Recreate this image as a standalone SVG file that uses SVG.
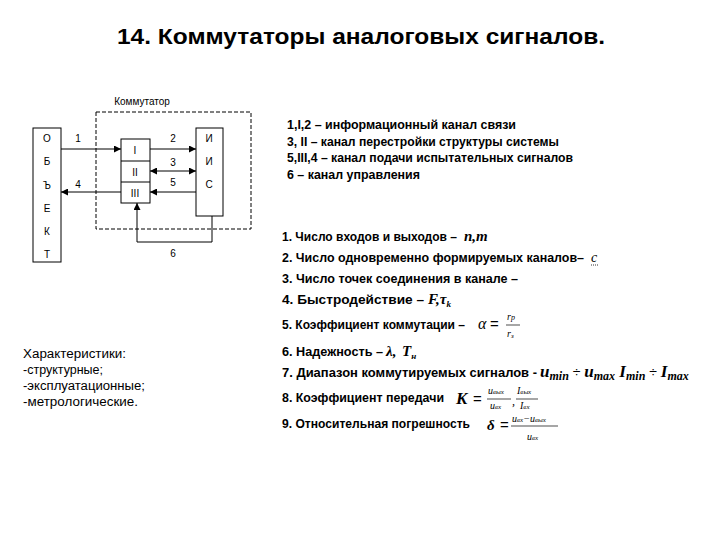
<svg xmlns="http://www.w3.org/2000/svg" width="720" height="540" viewBox="0 0 720 540">
<style>
.t{font-family:"Liberation Sans","DejaVu Sans",sans-serif;fill:#000}
.b{font-weight:bold}
.s{font-size:10px}
.m{font-family:"Liberation Serif","DejaVu Serif",serif;font-style:italic;font-weight:bold;fill:#000}
.mr{font-family:"Liberation Serif","DejaVu Serif",serif;font-style:italic;fill:#000}
.box{fill:#fff;stroke:#000;stroke-width:1}
.ln{fill:none;stroke:#000;stroke-width:1}
</style>
<defs>
<marker id="ah" viewBox="0 0 10 10" refX="10" refY="5" markerWidth="7" markerHeight="7" orient="auto-start-reverse" markerUnits="userSpaceOnUse">
<path d="M0,0 L10,5 L0,10 z" fill="#000"/>
</marker>
</defs>
<rect width="720" height="540" fill="#fff"/>
<text class="t b" x="117" y="44" font-size="22" textLength="488" lengthAdjust="spacingAndGlyphs">14. Коммутаторы аналоговых сигналов.</text>

<g id="commutator">
<rect x="96" y="112" width="155" height="117" fill="none" stroke="#000" stroke-dasharray="4,2"/>
<text class="t s" x="142" y="105" text-anchor="middle">Коммутатор</text>
</g>
<g id="object">
<rect class="box" x="33" y="128" width="28" height="134"/>
<text class="t s" x="47" y="142" text-anchor="middle">О</text>
<text class="t s" x="47" y="165" text-anchor="middle">Б</text>
<text class="t s" x="47" y="189" text-anchor="middle">Ъ</text>
<text class="t s" x="47" y="212" text-anchor="middle">Е</text>
<text class="t s" x="47" y="235" text-anchor="middle">К</text>
<text class="t s" x="47" y="258" text-anchor="middle">Т</text>
</g>
<g id="switch">
<rect class="box" x="121" y="139" width="29" height="64"/>
<line class="ln" x1="121" y1="161" x2="150" y2="161"/>
<line class="ln" x1="121" y1="182" x2="150" y2="182"/>
<text class="t s" x="135" y="154" text-anchor="middle">I</text>
<text class="t s" x="135" y="176" text-anchor="middle">II</text>
<text class="t s" x="135" y="197" text-anchor="middle">III</text>
</g>
<g id="iis">
<rect class="box" x="196" y="128" width="27" height="88"/>
<text class="t s" x="209" y="142" text-anchor="middle">И</text>
<text class="t s" x="209" y="165" text-anchor="middle">И</text>
<text class="t s" x="209" y="188" text-anchor="middle">С</text>
</g>
<g id="connectors">
<line class="ln" x1="61" y1="149" x2="121" y2="149" marker-end="url(#ah)"/>
<line class="ln" x1="150" y1="149" x2="196" y2="149" marker-end="url(#ah)"/>
<line class="ln" x1="150" y1="171" x2="196" y2="171" marker-start="url(#ah)" marker-end="url(#ah)"/>
<line class="ln" x1="196" y1="192" x2="150" y2="192" marker-end="url(#ah)"/>
<line class="ln" x1="121" y1="192" x2="61" y2="192" marker-end="url(#ah)"/>
<polyline class="ln" points="212,216 212,242 137,242 137,203" marker-end="url(#ah)"/>
<text class="t s" x="78" y="142" text-anchor="middle">1</text>
<text class="t s" x="173" y="142" text-anchor="middle">2</text>
<text class="t s" x="173" y="166" text-anchor="middle">3</text>
<text class="t s" x="173" y="186" text-anchor="middle">5</text>
<text class="t s" x="78" y="188" text-anchor="middle">4</text>
<text class="t s" x="173" y="257" text-anchor="middle">6</text>
</g>

<g id="legend" class="t b" font-size="13">
<text x="287" y="129" textLength="229" lengthAdjust="spacingAndGlyphs">1,I,2 – информационный канал связи</text>
<text x="287" y="146" textLength="272" lengthAdjust="spacingAndGlyphs">3, II – канал перестройки структуры системы</text>
<text x="287" y="162" textLength="286" lengthAdjust="spacingAndGlyphs">5,III,4 – канал подачи испытательных сигналов</text>
<text x="287" y="179" textLength="133" lengthAdjust="spacingAndGlyphs">6 – канал управления</text>
</g>

<g id="list" class="t b" font-size="13">
<text x="282" y="241" textLength="175" lengthAdjust="spacingAndGlyphs">1. Число входов и выходов –</text>
<text x="282" y="262" textLength="302" lengthAdjust="spacingAndGlyphs">2. Число одновременно формируемых каналов–</text>
<text x="282" y="283" textLength="236" lengthAdjust="spacingAndGlyphs">3. Число точек соединения в канале –</text>
<text x="282" y="304" textLength="142" lengthAdjust="spacingAndGlyphs">4. Быстродействие –</text>
<text x="282" y="329" textLength="183" lengthAdjust="spacingAndGlyphs">5. Коэффициент коммутации –</text>
<text x="282" y="356" textLength="101" lengthAdjust="spacingAndGlyphs">6. Надежность –</text>
<text x="282" y="377" textLength="255" lengthAdjust="spacingAndGlyphs">7. Диапазон коммутируемых сигналов -</text>
<text x="282" y="402" textLength="162" lengthAdjust="spacingAndGlyphs">8. Коэффициент передачи</text>
<text x="282" y="428" textLength="188" lengthAdjust="spacingAndGlyphs">9. Относительная погрешность</text>
</g>

<g id="math">
<text class="m" x="464" y="241" font-size="15">n,m</text>
<text class="mr" x="591" y="262" font-size="14">с</text>
<line x1="591" y1="265" x2="599" y2="265" stroke="#000" stroke-width="0.8" stroke-dasharray="1,1"/>
<text class="m" x="428" y="304" font-size="15">F,τ<tspan font-size="9" dy="3">k</tspan></text>
<text class="mr" x="478" y="329" font-size="16">α</text>
<text class="t" x="490" y="329" font-size="15">=</text>
<text class="mr" x="507" y="320" font-size="10">r<tspan font-size="8">p</tspan></text>
<line x1="506" y1="325" x2="520" y2="325" stroke="#000" stroke-width="0.7"/>
<text class="mr" x="507" y="337" font-size="10">r<tspan font-size="7" dy="1">з</tspan></text>
<text class="m" x="386" y="356" font-size="15">λ,</text>
<text class="m" x="402" y="356" font-size="15">T<tspan font-size="9" dy="3">н</tspan></text>
<text class="m" x="540" y="377" font-size="17">u<tspan font-size="12" dy="3">min</tspan><tspan class="t" font-weight="normal" font-style="normal" font-size="14" dy="-3"> ÷ </tspan>u<tspan font-size="12" dy="3">max</tspan><tspan dy="-3"> I</tspan><tspan font-size="12" dy="3">min</tspan><tspan class="t" font-weight="normal" font-style="normal" font-size="14" dy="-3"> ÷ </tspan>I<tspan font-size="12" dy="3">max</tspan></text>
<text class="m" x="456" y="404" font-size="17">K</text>
<text class="t" x="473" y="404" font-size="15">=</text>
<text class="mr" x="488" y="394" font-size="10">u<tspan font-size="7">вых</tspan></text>
<line x1="487" y1="399" x2="511" y2="399" stroke="#000" stroke-width="0.7"/>
<text class="mr" x="490" y="409" font-size="10">u<tspan font-size="7">вх</tspan></text>
<text class="mr" x="512" y="405" font-size="12">,</text>
<text class="mr" x="517" y="394" font-size="10">I<tspan font-size="7">вых</tspan></text>
<line x1="516" y1="399" x2="538" y2="399" stroke="#000" stroke-width="0.7"/>
<text class="mr" x="520" y="409" font-size="10">I<tspan font-size="7">вх</tspan></text>
<text class="m" x="487" y="430" font-size="15">δ</text>
<text class="t" x="500" y="430" font-size="15">=</text>
<text class="mr" x="512" y="422" font-size="10">u<tspan font-size="7">вх</tspan>−u<tspan font-size="7">вых</tspan></text>
<line x1="511" y1="426" x2="558" y2="426" stroke="#000" stroke-width="0.7"/>
<text class="mr" x="527" y="440" font-size="10">u<tspan font-size="7">вх</tspan></text>
</g>

<g id="characteristics" class="t" font-size="12">
<text x="23" y="358" textLength="103" lengthAdjust="spacingAndGlyphs">Характеристики:</text>
<text x="23" y="374" textLength="80" lengthAdjust="spacingAndGlyphs">-структурные;</text>
<text x="23" y="390" textLength="122" lengthAdjust="spacingAndGlyphs">-эксплуатационные;</text>
<text x="23" y="406" textLength="115" lengthAdjust="spacingAndGlyphs">-метрологические.</text>
</g>
</svg>
